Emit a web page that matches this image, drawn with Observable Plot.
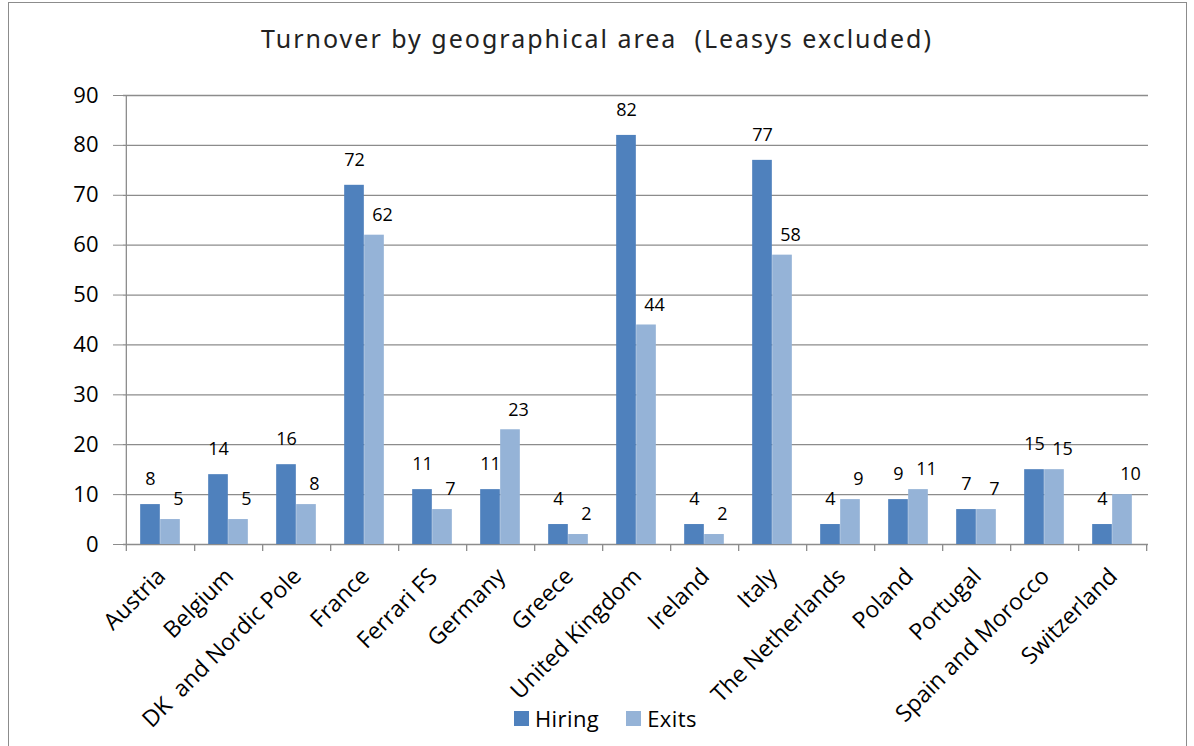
<!DOCTYPE html>
<html>
<head>
<meta charset="utf-8">
<script src="https://cdn.jsdelivr.net/npm/d3@7"></script>
<script src="https://cdn.jsdelivr.net/npm/@observablehq/plot@0.6"></script>
<style>
  html, body { margin: 0; padding: 0; background: #fff; }
  #wrap { position: relative; width: 1194px; height: 746px; overflow: hidden; }
  #frame { position: absolute; left: 8px; top: 2px; width: 1179px; height: 800px; border: 1px solid #8c8c8c; box-sizing: border-box; }
  #title { position: absolute; left: 0; width: 1194px; top: 21px; text-align: center; font-family: "Noto Sans", sans-serif; font-size: 25px; letter-spacing: 2px; color: #222; white-space: pre; }
  #chart { position: absolute; left: 0; top: 0; }
  #legend { position: absolute; top: 703px; left: 514px; font-family: "Open Sans", sans-serif; font-size: 22px; letter-spacing: 0.4px; color: #000; display: flex; align-items: center; white-space: nowrap; }
  #legend .sw { display: inline-block; width: 15px; height: 15px; margin-right: 6px; }
  #legend .item { display: flex; align-items: center; margin-right: 27px; }
</style>
</head>
<body>
<div id="wrap">
  <div id="frame"></div>
  <div id="chart"></div>
  <div id="title"></div>
  <div id="legend"></div>
</div>
<script>
const title = "Turnover by geographical area  (Leasys excluded)";
const categories = ["Austria", "Belgium", "DK  and Nordic Pole", "France", "Ferrari FS", "Germany", "Greece", "United Kingdom", "Ireland", "Italy", "The Netherlands", "Poland", "Portugal", "Spain and Morocco", "Switzerland"];
const hiring = [8, 14, 16, 72, 11, 11, 4, 82, 4, 77, 4, 9, 7, 15, 4];
const exits  = [5, 5, 8, 62, 7, 23, 2, 44, 2, 58, 9, 11, 7, 15, 10];
const seriesNames = ["Hiring", "Exits"];
const seriesColors = ["#4F81BD", "#95B3D7"];
const yTicks = [0, 10, 20, 30, 40, 50, 60, 70, 80, 90];

const W = 1194, H = 746;
const mL = 123, mR = 46, mT = 95, mB = 202;
const bw = (W - mL - mR) / categories.length;
const barW = 20;

const rows = categories.flatMap((c, i) => [
  {category: c, series: seriesNames[0], value: hiring[i]},
  {category: c, series: seriesNames[1], value: exits[i]}
]);
const hRows = rows.filter(d => d.series === seriesNames[0]);
const eRows = rows.filter(d => d.series === seriesNames[1]);
const insetSide = (bw - barW) / 2;

const axisColor = "#8c8c8c";
const chart = Plot.plot({
  width: W, height: H,
  marginLeft: mL, marginRight: mR, marginTop: mT, marginBottom: mB,
  style: {fontFamily: "Open Sans, sans-serif", background: "transparent"},
  x: {domain: categories, padding: 0, axis: null},
  y: {domain: [0, 90], axis: null},
  marks: [
    Plot.ruleY(yTicks, {y: d => d, stroke: axisColor, strokeWidth: 1.3, strokeOpacity: 1}),
    Plot.barY(hRows, {x: "category", y: "value", fill: seriesColors[0], insetLeft: insetSide, insetRight: insetSide, dx: -barW / 2}),
    Plot.barY(eRows, {x: "category", y: "value", fill: seriesColors[1], insetLeft: insetSide, insetRight: insetSide, dx: barW / 2}),
    Plot.ruleX([categories[0]], {x: d => d, y1: 90, y2: 0, dx: -bw / 2, insetBottom: -7, stroke: axisColor, strokeWidth: 1.3}),
    Plot.ruleX(categories, {x: d => d, y1: 0, y2: 0, dx: bw / 2, insetBottom: -7, stroke: axisColor, strokeWidth: 1.3}),
    Plot.axisY({ticks: yTicks, tickSize: 10, tickPadding: 15, stroke: axisColor, fontSize: 22, color: "#000", label: null, tickFormat: d => String(d)}),
    Plot.text(hRows, {x: "category", y: "value", text: d => String(d.value), dx: -barW / 2, dy: -25, fontSize: 18, fill: "#000"}),
    Plot.text(eRows, {x: "category", y: "value", text: d => String(d.value), dx: barW / 2 + 8, dy: -20, fontSize: 18, fill: "#000"}),
    Plot.text(categories, {x: d => d, y: 0, text: d => d, rotate: -45, textAnchor: "end", lineAnchor: "middle", dx: 1, dy: 28, fontSize: 23, fill: "#000"})
  ]
});
chart.querySelectorAll("text").forEach(t => t.setAttribute("xml:space", "preserve"));
chart.style.whiteSpace = "pre";
document.getElementById("chart").appendChild(chart);
document.getElementById("title").textContent = title;

const legend = document.getElementById("legend");
seriesNames.forEach((s, i) => {
  const item = document.createElement("span");
  item.className = "item";
  const sw = document.createElement("span");
  sw.className = "sw";
  sw.style.background = seriesColors[i];
  item.appendChild(sw);
  item.appendChild(document.createTextNode(s));
  legend.appendChild(item);
});
</script>
</body>
</html>
